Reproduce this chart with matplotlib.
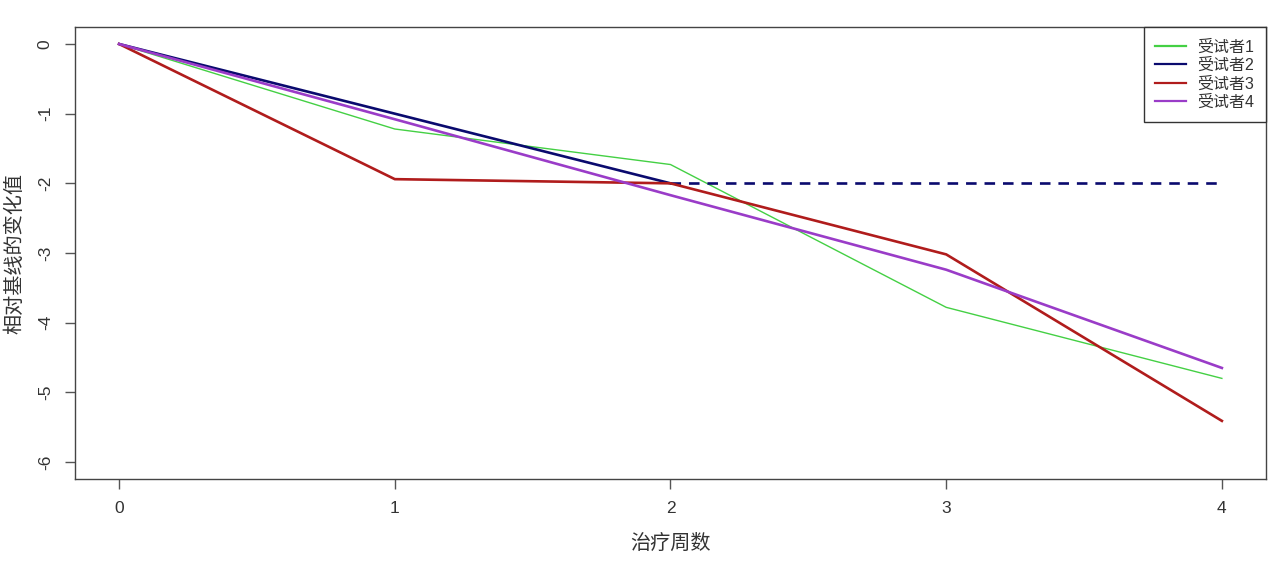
import matplotlib
matplotlib.use('Agg')
import matplotlib.pyplot as plt

plt.rcParams['font.family'] = ['Liberation Sans', 'Noto Sans CJK SC', 'DejaVu Sans']

# Datos
semanas = [0, 1, 2, 3, 4]
sujeto1 = [0, -1.22, -1.73, -3.78, -4.80]
sujeto2 = [0, -1.00, -2.00]
sujeto2_semanas = [0, 1, 2]
sujeto2_resto = [-2.00, -2.00, -2.00]
sujeto2_resto_semanas = [2, 3, 4]
sujeto3 = [0, -1.94, -2.00, -3.02, -5.41]
sujeto4 = [0, -1.08, -2.17, -3.24, -4.65]
nombres = ['受试者1', '受试者2', '受试者3', '受试者4']
colores = ['#44d044', '#0a0a6e', '#b01c1c', '#9a3cc8']

W, H = 1280, 565
fig = plt.figure(figsize=(W / 100, H / 100), dpi=100)
ax = fig.add_axes([75 / W, 1 - 478.7 / H, (1266 - 75) / W, (478.7 - 27.3) / H])

l1, = ax.plot(semanas, sujeto1, color=colores[0], lw=1.0)
l2, = ax.plot(sujeto2_semanas, sujeto2, color=colores[1], lw=1.9)
ax.plot(sujeto2_resto_semanas, sujeto2_resto, color=colores[1], lw=1.9, dashes=(4, 3))
l3, = ax.plot(semanas, sujeto3, color=colores[2], lw=1.9)
l4, = ax.plot(semanas, sujeto4, color=colores[3], lw=1.9)

ax.set_xlim(-0.16, 4.16)
ax.set_ylim(-6.24, 0.24)
ax.set_xticks(semanas)
ax.set_yticks([0, -1, -2, -3, -4, -5, -6])
ax.set_yticklabels(['0', '-1', '-2', '-3', '-4', '-5', '-6'], rotation=90, va='center')

for s in ax.spines.values():
    s.set_color('#444444')
    s.set_linewidth(1.0)
ax.tick_params(axis='both', direction='out', length=7, width=1, color='#555555',
               labelsize=12.5, labelcolor='#333333')
ax.tick_params(axis='x', pad=9)
ax.tick_params(axis='y', pad=9)

ax.set_xlabel('治疗周数', fontsize=14.5, color='#333333',
              family=['Noto Sans CJK SC'], va='center')
ax.set_ylabel('相对基线的变化值', fontsize=14.5, color='#333333',
              family=['Noto Sans CJK SC'], va='center')
ax.xaxis.set_label_coords(0.5, (478.7 - 543) / 451.4)
ax.yaxis.set_label_coords((15 - 75) / 1191, 0.5)

leg = ax.legend([l1, l2, l3, l4], nombres, loc='upper right', borderaxespad=0,
                fancybox=False, framealpha=1, edgecolor='#333333', fontsize=11.5,
                handlelength=1.9, handletextpad=0.7, labelspacing=0.2,
                borderpad=0.75)
leg.get_frame().set_linewidth(1.0)
for t in leg.get_texts():
    t.set_color('#333333')
for h in leg.get_lines():
    h.set_linewidth(1.6)

fig.savefig('out.png', dpi=100)
